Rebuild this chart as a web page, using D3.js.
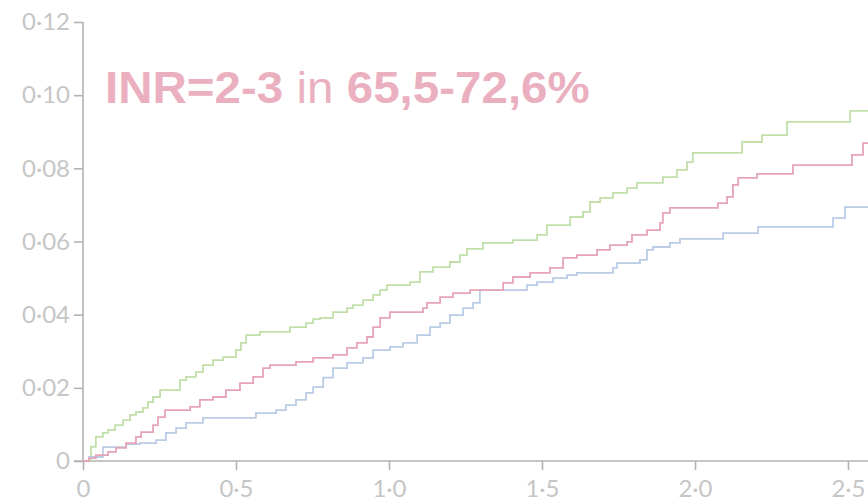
<!DOCTYPE html>
<html>
<head>
<meta charset="utf-8">
<script src="https://cdn.jsdelivr.net/npm/d3@7"></script>
<style>
  html, body { margin: 0; padding: 0; background: #fff; }
  svg { display: block; }
</style>
</head>
<body>
<svg id="chart" width="868" height="501"></svg>
<script>
// Cumulative incidence, step points [years, proportion]
const greenSteps = [[0,0],[0.026,0.0039],[0.042,0.0066],[0.065,0.0077],[0.082,0.0085],[0.105,0.0098],[0.131,0.0112],[0.154,0.0126],[0.173,0.0134],[0.196,0.0145],[0.212,0.0161],[0.229,0.0175],[0.252,0.0194],[0.317,0.0221],[0.337,0.023],[0.369,0.0243],[0.392,0.0262],[0.425,0.0276],[0.458,0.0284],[0.5,0.0303],[0.516,0.0323],[0.533,0.0344],[0.578,0.0353],[0.676,0.0366],[0.729,0.0377],[0.752,0.0388],[0.775,0.0391],[0.817,0.0407],[0.863,0.0418],[0.882,0.0426],[0.915,0.044],[0.948,0.0454],[0.971,0.0467],[0.993,0.0481],[1.069,0.0489],[1.101,0.0517],[1.144,0.053],[1.199,0.0544],[1.232,0.0563],[1.255,0.058],[1.307,0.0596],[1.405,0.0604],[1.484,0.0618],[1.516,0.0645],[1.592,0.0667],[1.634,0.0681],[1.657,0.0708],[1.69,0.0719],[1.732,0.0733],[1.778,0.0746],[1.81,0.076],[1.895,0.0776],[1.941,0.0796],[1.974,0.0817],[1.993,0.0842],[2.154,0.0872],[2.219,0.0891],[2.301,0.0927],[2.507,0.0957]];
const redSteps = [[0,0],[0.02,0.0008],[0.042,0.0016],[0.082,0.0025],[0.108,0.0036],[0.141,0.0049],[0.173,0.0066],[0.19,0.0079],[0.229,0.0098],[0.245,0.012],[0.268,0.0139],[0.35,0.0148],[0.382,0.0167],[0.425,0.0175],[0.467,0.0194],[0.513,0.0213],[0.556,0.023],[0.588,0.0254],[0.611,0.0262],[0.696,0.0271],[0.752,0.0282],[0.817,0.029],[0.863,0.0309],[0.895,0.0323],[0.928,0.0339],[0.948,0.0366],[0.971,0.0391],[1.003,0.0407],[1.111,0.0418],[1.124,0.0432],[1.167,0.0448],[1.209,0.0459],[1.265,0.0467],[1.373,0.0487],[1.405,0.0503],[1.461,0.0514],[1.526,0.0528],[1.569,0.0555],[1.614,0.0563],[1.68,0.0577],[1.722,0.059],[1.778,0.0599],[1.794,0.0618],[1.843,0.0631],[1.886,0.0651],[1.895,0.0678],[1.918,0.0692],[2.075,0.0705],[2.105,0.0722],[2.124,0.0755],[2.141,0.0774],[2.203,0.0785],[2.32,0.0809],[2.513,0.0837],[2.549,0.0869]];
const blueSteps = [[0,0],[0.02,0.0011],[0.065,0.0038],[0.141,0.0046],[0.186,0.0049],[0.239,0.0057],[0.271,0.0077],[0.304,0.009],[0.337,0.0104],[0.392,0.0118],[0.565,0.0131],[0.631,0.0139],[0.663,0.0153],[0.696,0.0167],[0.729,0.0186],[0.752,0.0202],[0.785,0.0228],[0.817,0.0254],[0.863,0.0268],[0.915,0.0282],[0.948,0.0303],[1.003,0.0312],[1.046,0.0323],[1.092,0.0344],[1.134,0.0366],[1.167,0.0377],[1.199,0.0399],[1.242,0.0418],[1.275,0.0432],[1.297,0.0467],[1.451,0.0481],[1.484,0.0489],[1.536,0.05],[1.582,0.0508],[1.614,0.0514],[1.732,0.0528],[1.745,0.0541],[1.82,0.055],[1.843,0.0577],[1.863,0.0585],[1.918,0.0596],[1.951,0.0607],[2.092,0.0623],[2.206,0.064],[2.451,0.0664],[2.49,0.0694]];

const xTicks = [0, 0.5, 1.0, 1.5, 2.0, 2.5];
const xTickLabels = ["0", "0·5", "1·0", "1·5", "2·0", "2·5"];
const yTicks = [0, 0.02, 0.04, 0.06, 0.08, 0.10, 0.12];
const yTickLabels = ["0", "0·02", "0·04", "0·06", "0·08", "0·10", "0·12"];

const titleParts = [
  { text: "INR=2-3", weight: "bold" },
  { text: " in ", weight: "normal" },
  { text: "65,5-72,6%", weight: "bold" }
];

const series = [
  { steps: greenSteps, color: "#c2dfaa" },
  { steps: blueSteps, color: "#bacce6" },
  { steps: redSteps, color: "#e6a4b7" }
];

const tEnd = 2.57;

const svg = d3.select("#chart");
const x = d3.scaleLinear().domain([0, 2.5]).range([83, 848]);
const y = d3.scaleLinear().domain([0, 0.12]).range([461, 22]);

const axisColor = "#b3b3b3";
const labelColor = "#c6c6c6";
const tickFont = "Lato, 'Open Sans', sans-serif";

// Y axis
const yAxis = d3.axisLeft(y)
  .tickValues(yTicks)
  .tickFormat((d, i) => yTickLabels[i])
  .tickSize(9)
  .tickPadding(4);
const gy = svg.append("g").attr("transform", `translate(${x(0)},0)`).call(yAxis);
gy.select(".domain").attr("d", `M0,${y(0)}V${y(0.12)}`);

// X axis
const xAxis = d3.axisBottom(x)
  .tickValues(xTicks)
  .tickFormat((d, i) => xTickLabels[i])
  .tickSize(9)
  .tickPadding(10);
const gx = svg.append("g").attr("transform", `translate(0,${y(0)})`).call(xAxis);
gx.select(".domain").attr("d", `M${x(0) - 9},0H868`);

[gx, gy].forEach(g => {
  g.select(".domain").attr("stroke", axisColor).attr("stroke-width", 1.6);
  g.selectAll(".tick line").attr("stroke", axisColor).attr("stroke-width", 1.6);
  g.selectAll(".tick text")
    .attr("fill", labelColor)
    .style("font-family", tickFont)
    .style("font-size", "24px");
});

// Step curves
const line = d3.line()
  .x(d => x(d[0]))
  .y(d => y(d[1]))
  .curve(d3.curveStepAfter);

series.forEach(s => {
  const pts = s.steps.concat([[tEnd, s.steps[s.steps.length - 1][1]]]);
  svg.append("path")
    .datum(pts)
    .attr("fill", "none")
    .attr("stroke", s.color)
    .attr("stroke-width", 1.8)
    .attr("d", line);
});

// Headline
const title = svg.append("text")
  .attr("x", 0)
  .attr("y", 0)
  .attr("fill", "#ebb0bf")
  .style("font-family", "'Liberation Sans', Arial, sans-serif")
  .style("font-size", "44.5px");
titleParts.forEach(p => {
  title.append("tspan").attr("font-weight", p.weight).text(p.text);
});
const w = title.node().getComputedTextLength();
title.attr("transform", `translate(105,103) scale(${485 / w},1)`);
</script>
</body>
</html>
